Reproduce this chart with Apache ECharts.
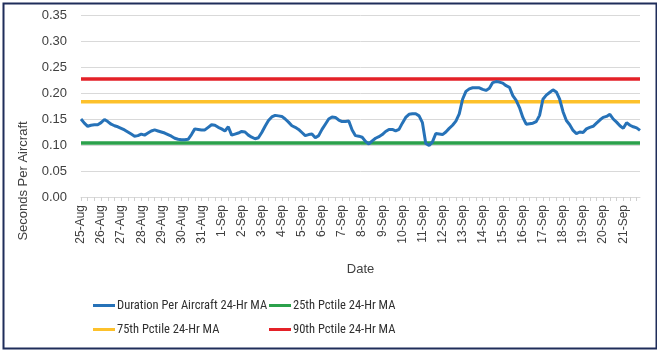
<!DOCTYPE html>
<html>
<head>
<meta charset="utf-8">
<script src="https://cdn.jsdelivr.net/npm/echarts@6/dist/echarts.min.js"></script>
<style>
  html, body { margin: 0; padding: 0; background: #ffffff; }
  #chart { width: 657px; height: 359px; }
</style>
</head>
<body>
<div id="chart"></div>
<script>
// Day labels (one per day, 25-Aug .. 21-Sep)
const dayLabels = ['25-Aug','26-Aug','27-Aug','28-Aug','29-Aug','30-Aug','31-Aug',
  '1-Sep','2-Sep','3-Sep','4-Sep','5-Sep','6-Sep','7-Sep','8-Sep','9-Sep','10-Sep',
  '11-Sep','12-Sep','13-Sep','14-Sep','15-Sep','16-Sep','17-Sep','18-Sep','19-Sep','20-Sep','21-Sep'];
// Readings every 4 hours
const stepHours = ['00:00','04:00','08:00','12:00','16:00','20:00'];

// Duration Per Aircraft 24-Hr MA (seconds), one value per 4-hour step
const durationMA = [
  0.150,0.142,0.136,0.138,0.139,0.139,
  0.143,0.149,0.145,0.140,0.137,0.135,
  0.132,0.129,0.125,0.121,0.117,0.118,
  0.121,0.119,0.123,0.127,0.129,0.127,
  0.125,0.123,0.120,0.117,0.113,0.111,
  0.110,0.110,0.111,0.120,0.131,0.130,
  0.129,0.129,0.134,0.139,0.138,0.134,
  0.131,0.127,0.135,0.119,0.121,0.123,
  0.126,0.125,0.119,0.115,0.112,0.114,
  0.124,0.136,0.147,0.154,0.157,0.156,
  0.155,0.150,0.144,0.137,0.134,0.130,
  0.124,0.118,0.120,0.121,0.114,0.118,
  0.130,0.140,0.150,0.154,0.153,0.148,
  0.145,0.145,0.146,0.129,0.118,0.117,
  0.115,0.107,0.102,0.108,0.113,0.116,
  0.120,0.126,0.130,0.130,0.127,0.130,
  0.142,0.153,0.159,0.160,0.160,0.156,
  0.143,0.103,0.099,0.106,0.122,0.121,
  0.120,0.125,0.132,0.138,0.146,0.160,
  0.188,0.203,0.208,0.210,0.210,0.210,
  0.207,0.205,0.209,0.220,0.222,0.221,
  0.219,0.214,0.211,0.195,0.186,0.172,
  0.153,0.140,0.141,0.142,0.145,0.157,
  0.188,0.196,0.201,0.206,0.202,0.188,
  0.164,0.147,0.139,0.128,0.122,0.125,
  0.124,0.131,0.134,0.136,0.142,0.148,
  0.153,0.155,0.159,0.150,0.144,0.137,
  0.132,0.143,0.138,0.135,0.133,0.128
];

// Percentile reference levels (seconds)
const pctile25 = 0.104;
const pctile75 = 0.183;
const pctile90 = 0.227;

// Y axis ticks
const yMin = 0, yMax = 0.35, yStep = 0.05;

const seriesNames = ['Duration Per Aircraft 24-Hr MA','25th Pctile 24-Hr MA','75th Pctile 24-Hr MA','90th Pctile 24-Hr MA'];
const colors = { dur: '#2672B8', p25: '#2BA14B', p75: '#FDC12B', p90: '#E42128' };

const categories = [];
dayLabels.forEach(d => stepHours.forEach(h => categories.push(d + ' ' + h)));

const FONT = "'Liberation Sans Narrow', 'Roboto Condensed', 'Liberation Sans', Arial, sans-serif";
const FONT_AXIS = "'Liberation Sans', Arial, sans-serif";

const chart = echarts.init(document.getElementById('chart'), null, { renderer: 'canvas' });

const legendText = { fontFamily: FONT, fontSize: 12.5, color: '#303030', padding: [0, 0, 0, -3] };

const option = {
  backgroundColor: '#ffffff',
  animation: false,
  grid: { left: 81, right: 17, top: 15, bottom: 162, containLabel: false },
  xAxis: {
    type: 'category',
    data: categories,
    boundaryGap: false,
    name: 'Date',
    nameLocation: 'middle',
    nameGap: 66,
    nameTextStyle: { fontFamily: FONT_AXIS, fontSize: 13, color: '#404040' },
    axisLine: { show: true, lineStyle: { color: '#D9D9D9', width: 1 } },
    axisTick: { show: true, interval: 1, length: 4, lineStyle: { color: '#D0D0D0' } },
    axisLabel: {
      interval: 5,
      rotate: 90,
      margin: 8,
      fontFamily: FONT_AXIS,
      fontSize: 12,
      color: '#404040',
      formatter: v => v.split(' ')[0]
    },
    splitLine: { show: false }
  },
  yAxis: {
    type: 'value',
    min: yMin, max: yMax, interval: yStep,
    axisLine: { show: false },
    axisTick: { show: false },
    axisLabel: {
      margin: 14,
      fontFamily: FONT_AXIS,
      fontSize: 13,
      color: '#404040',
      formatter: v => v.toFixed(2)
    },
    splitLine: { show: true, lineStyle: { color: '#D9D9D9', width: 1 } }
  },
  legend: [
    {
      data: [seriesNames[0], seriesNames[2]],
      orient: 'vertical',
      left: 88, top: 294,
      itemGap: 11,
      itemWidth: 22, itemHeight: 3,
      icon: 'rect',
      textStyle: legendText
    },
    {
      data: [seriesNames[1], seriesNames[3]],
      orient: 'vertical',
      left: 264, top: 294,
      itemGap: 11,
      itemWidth: 22, itemHeight: 3,
      icon: 'rect',
      textStyle: legendText
    }
  ],
  graphic: [
    {
      type: 'text',
      rotation: Math.PI / 2,
      style: {
        text: 'Seconds Per Aircraft',
        fontFamily: FONT_AXIS,
        fontSize: 13,
        fill: '#404040',
        align: 'center',
        verticalAlign: 'middle'
      },
      x: 23, y: 181
    },
    {
      type: 'rect',
      left: 1, top: 1,
      shape: { width: 653, height: 345 },
      style: { fill: 'none', stroke: '#1F2D5A', lineWidth: 2 },
      silent: true,
      z: 100
    }
  ],
  series: [
    {
      name: seriesNames[1], type: 'line', data: categories.map(() => pctile25),
      symbol: 'none', lineStyle: { color: colors.p25, width: 3.5 }, itemStyle: { color: colors.p25 }, z: 2
    },
    {
      name: seriesNames[2], type: 'line', data: categories.map(() => pctile75),
      symbol: 'none', lineStyle: { color: colors.p75, width: 3.5 }, itemStyle: { color: colors.p75 }, z: 2
    },
    {
      name: seriesNames[3], type: 'line', data: categories.map(() => pctile90),
      symbol: 'none', lineStyle: { color: colors.p90, width: 3.5 }, itemStyle: { color: colors.p90 }, z: 2
    },
    {
      name: seriesNames[0], type: 'line', data: durationMA,
      symbol: 'none', lineStyle: { color: colors.dur, width: 3 }, itemStyle: { color: colors.dur }, z: 3
    }
  ]
};
chart.setOption(option);
</script>
</body>
</html>
